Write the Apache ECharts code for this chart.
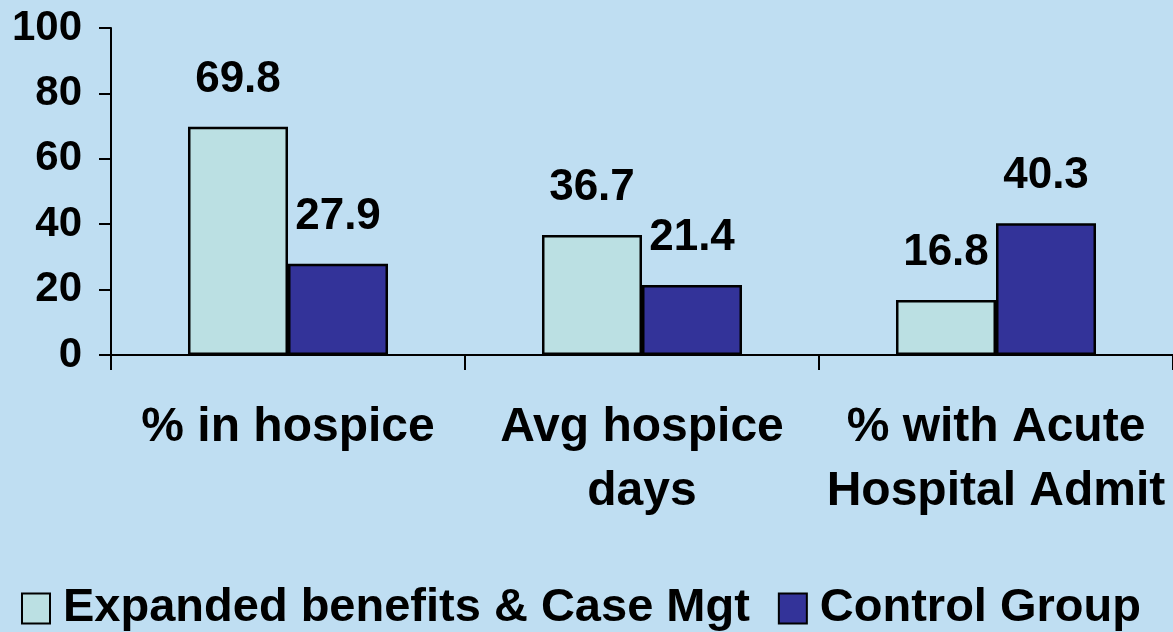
<!DOCTYPE html>
<html>
<head>
<meta charset="utf-8">
<script src="https://cdn.jsdelivr.net/npm/echarts@6/dist/echarts.min.js"></script>
<style>
html,body{margin:0;padding:0;background:#BFDEF2;}
#c{width:1173px;height:632px;}
</style>
</head>
<body>
<div id="c"></div>
<script>
const categories = ['% in hospice', 'Avg hospice\ndays', '% with Acute\nHospital Admit'];
const seriesNames = ['Expanded benefits & Case Mgt', 'Control Group'];
const expandedValues = [69.8, 36.7, 16.8];
const controlValues = [27.9, 21.4, 40.3];
const yTicks = [0, 20, 40, 60, 80, 100];

const font = '"Liberation Sans", Arial, sans-serif';
const chart = echarts.init(document.getElementById('c'), null, {renderer: 'canvas'});
const labelCfg = {
  show: true, position: 'top', distance: 25,
  color: '#000', fontFamily: font, fontWeight: 'bold', fontSize: 44
};
chart.setOption({
  backgroundColor: '#BFDEF2',
  animation: false,
  textStyle: {fontFamily: font},
  grid: {left: 111, right: 0, top: 28, bottom: 277, containLabel: false},
  legend: {
    left: 16, top: 580, itemWidth: 28, itemHeight: 30, itemGap: 28,
    icon: 'rect',
    textStyle: {color: '#000', fontFamily: font, fontWeight: 'bold', fontSize: 47, padding: [0, 0, 0, 8]},
    data: seriesNames
  },
  xAxis: {
    type: 'category', data: categories,
    axisLine: {show: true, lineStyle: {color: '#000', width: 2}},
    axisTick: {show: true, length: 15, lineStyle: {color: '#000', width: 2}},
    axisLabel: {color: '#000', fontFamily: font, fontWeight: 'bold', fontSize: 48, lineHeight: 64, margin: 41, interval: 0}
  },
  yAxis: {
    type: 'value', min: yTicks[0], max: yTicks[yTicks.length - 1], interval: 20,
    axisLine: {show: true, lineStyle: {color: '#000', width: 2}},
    axisTick: {show: true, length: 12, lineStyle: {color: '#000', width: 2}},
    splitLine: {show: false},
    axisLabel: {color: '#000', fontFamily: font, fontWeight: 'bold', fontSize: 42, margin: 29}
  },
  series: [
    {
      name: seriesNames[0], type: 'bar', data: expandedValues,
      barGap: '0%', barCategoryGap: '43.5%',
      itemStyle: {color: '#BBE0E3', borderColor: '#000', borderWidth: 2.5},
      label: labelCfg
    },
    {
      name: seriesNames[1], type: 'bar', data: controlValues,
      barGap: '0%', barCategoryGap: '43.5%',
      itemStyle: {color: '#333399', borderColor: '#000', borderWidth: 2.5},
      label: labelCfg
    }
  ]
});
</script>
</body>
</html>
